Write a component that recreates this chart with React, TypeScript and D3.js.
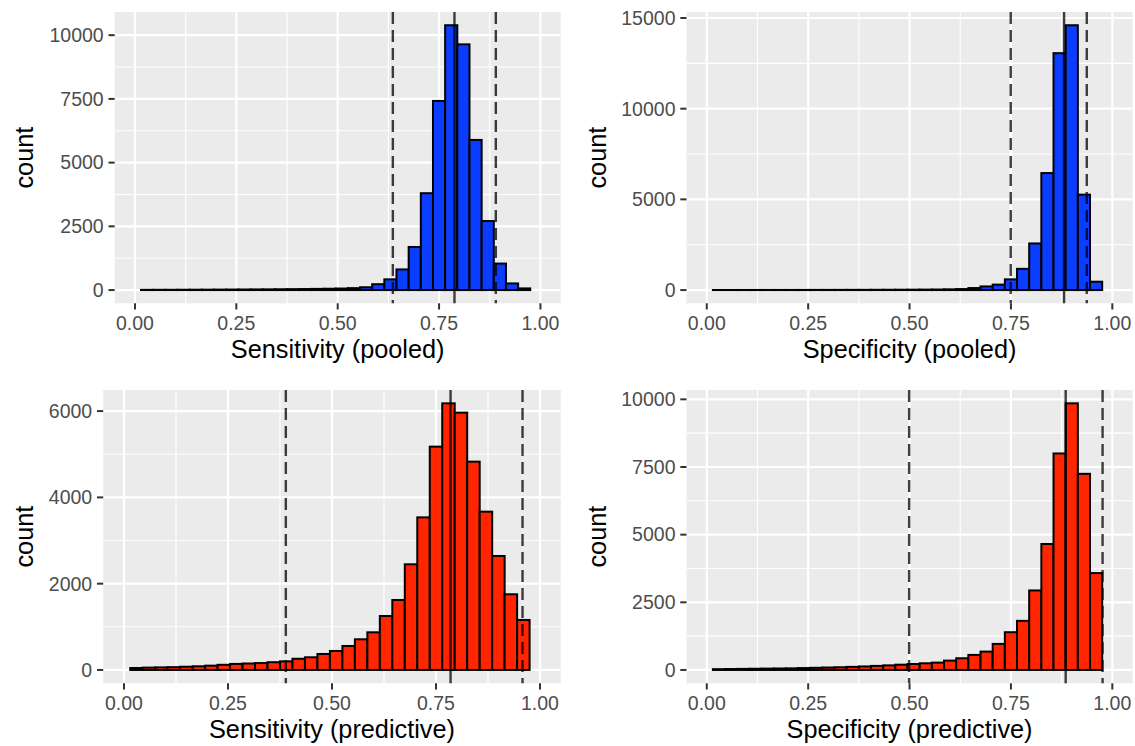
import { useRef, useEffect } from 'react';
import * as d3 from 'd3';

const WIDTH = 1135;
const HEIGHT = 746;
const FONT = '"Liberation Sans", Arial, Helvetica, sans-serif';
const PANEL_BG = '#EBEBEB';
const BLUE = '#0A3DFF';
const RED = '#FF2500';

// histogram bins (binwidth 0.03), given by their centres
const BIN_WIDTH = 0.03;
const BIN_CENTERS = [
  0.03, 0.06, 0.09, 0.12, 0.15, 0.18, 0.21, 0.24, 0.27, 0.3, 0.33, 0.36, 0.39, 0.42, 0.45, 0.48,
  0.51, 0.54, 0.57, 0.6, 0.63, 0.66, 0.69, 0.72, 0.75, 0.78, 0.81, 0.84, 0.87, 0.9, 0.93, 0.96,
];

const SENS_POOLED = [
  8, 10, 10, 12, 14, 15, 18, 20, 22, 25, 28, 32, 36, 40, 46, 52,
  60, 75, 110, 230, 420, 810, 1690, 3800, 7420, 10390, 9640, 5890, 2710, 1040, 260, 65,
];
const SPEC_POOLED = [
  3, 4, 4, 5, 5, 6, 6, 7, 8, 9, 10, 11, 12, 14, 16, 18,
  21, 25, 30, 40, 55, 110, 200, 300, 590, 1170, 2570, 6450, 13060, 14600, 5260, 460,
];
const SENS_PRED = [
  45, 55, 60, 65, 75, 85, 100, 120, 140, 150, 160, 180, 200, 260, 294, 371,
  440, 556, 711, 873, 1251, 1622, 2449, 3537, 5176, 6180, 5964, 4828, 3669, 2642, 1754, 1159,
];
const SPEC_PRED = [
  30, 35, 40, 45, 50, 55, 60, 70, 80, 90, 100, 115, 130, 150, 170, 195,
  220, 247, 272, 346, 432, 556, 679, 963, 1395, 1815, 2938, 4654, 8000, 9852, 7247, 3580,
];

// [lower, median, upper] reference lines
const SENS_POOLED_LINES = [0.636, 0.788, 0.89];
const SPEC_POOLED_LINES = [0.7495, 0.881, 0.937];
const SENS_PRED_LINES = [0.389, 0.785, 0.958];
const SPEC_PRED_LINES = [0.499, 0.885, 0.976];

const X_TICKS = [0, 0.25, 0.5, 0.75, 1];
const X_MINOR = [0.125, 0.375, 0.625, 0.875];
const Y_TICKS_SENS_POOLED = [0, 2500, 5000, 7500, 10000];
const Y_TICKS_SPEC_POOLED = [0, 5000, 10000, 15000];
const Y_TICKS_SENS_PRED = [0, 2000, 4000, 6000];
const Y_TICKS_SPEC_PRED = [0, 2500, 5000, 7500, 10000];

const Histogram = ({ counts, lines, fill, xTitle, yTicks, box, titleX }) => {
  const ref = useRef(null);

  useEffect(() => {
    const g = d3.select(ref.current);
    g.selectAll('*').remove();
    const { left, right, top, bottom } = box;

    const x = d3.scaleLinear().domain([-0.05, 1.05]).range([left, right]);
    const maxCount = d3.max(counts);
    const y = d3
      .scaleLinear()
      .domain([-0.05 * maxCount, 1.05 * maxCount])
      .range([bottom, top]);

    g.append('rect')
      .attr('x', left)
      .attr('y', top)
      .attr('width', right - left)
      .attr('height', bottom - top)
      .attr('fill', PANEL_BG);

    // grid
    const yMinor = d3.pairs(yTicks).map(([a, b]) => (a + b) / 2);
    g.selectAll('.ymin')
      .data(yMinor)
      .join('line')
      .attr('x1', left)
      .attr('x2', right)
      .attr('y1', (d) => y(d))
      .attr('y2', (d) => y(d))
      .attr('stroke', 'white')
      .attr('stroke-width', 1.1);
    g.selectAll('.xmin')
      .data(X_MINOR)
      .join('line')
      .attr('x1', (d) => x(d))
      .attr('x2', (d) => x(d))
      .attr('y1', top)
      .attr('y2', bottom)
      .attr('stroke', 'white')
      .attr('stroke-width', 1.1);
    g.selectAll('.ymaj')
      .data(yTicks)
      .join('line')
      .attr('x1', left)
      .attr('x2', right)
      .attr('y1', (d) => y(d))
      .attr('y2', (d) => y(d))
      .attr('stroke', 'white')
      .attr('stroke-width', 2.2);
    g.selectAll('.xmaj')
      .data(X_TICKS)
      .join('line')
      .attr('x1', (d) => x(d))
      .attr('x2', (d) => x(d))
      .attr('y1', top)
      .attr('y2', bottom)
      .attr('stroke', 'white')
      .attr('stroke-width', 2.2);

    // bars
    g.append('g')
      .selectAll('rect')
      .data(counts)
      .join('rect')
      .attr('x', (d, i) => x(BIN_CENTERS[i] - BIN_WIDTH / 2))
      .attr('width', (d, i) => x(BIN_CENTERS[i] + BIN_WIDTH / 2) - x(BIN_CENTERS[i] - BIN_WIDTH / 2))
      .attr('y', (d) => y(d))
      .attr('height', (d) => y(0) - y(d))
      .attr('fill', fill)
      .attr('stroke', 'black')
      .attr('stroke-width', 2);

    // interval lines
    g.selectAll('.vline')
      .data(lines)
      .join('line')
      .attr('x1', (d) => x(d))
      .attr('x2', (d) => x(d))
      .attr('y1', top)
      .attr('y2', bottom)
      .attr('stroke', 'black')
      .attr('stroke-opacity', 0.75)
      .attr('stroke-width', 2.4)
      .attr('stroke-dasharray', (d, i) => (i === 1 ? null : '12,6'));

    // axes
    g.selectAll('.ytick')
      .data(yTicks)
      .join('line')
      .attr('x1', left - 6.2)
      .attr('x2', left)
      .attr('y1', (d) => y(d))
      .attr('y2', (d) => y(d))
      .attr('stroke', '#333333')
      .attr('stroke-width', 2);
    g.selectAll('.ylab')
      .data(yTicks)
      .join('text')
      .attr('x', left - 11)
      .attr('y', (d) => y(d))
      .attr('dy', '0.35em')
      .attr('text-anchor', 'end')
      .attr('fill', '#4D4D4D')
      .style('font-family', FONT)
      .style('font-size', '19.5px')
      .text((d) => d);

    g.selectAll('.xtick')
      .data(X_TICKS)
      .join('line')
      .attr('x1', (d) => x(d))
      .attr('x2', (d) => x(d))
      .attr('y1', bottom)
      .attr('y2', bottom + 6.2)
      .attr('stroke', '#333333')
      .attr('stroke-width', 2);
    g.selectAll('.xlab')
      .data(X_TICKS)
      .join('text')
      .attr('x', (d) => x(d))
      .attr('y', bottom + 27)
      .attr('text-anchor', 'middle')
      .attr('fill', '#4D4D4D')
      .style('font-family', FONT)
      .style('font-size', '19.5px')
      .text((d) => d3.format('.2f')(d));

    g.append('text')
      .attr('x', (left + right) / 2)
      .attr('y', bottom + 55)
      .attr('text-anchor', 'middle')
      .attr('fill', 'black')
      .style('font-family', FONT)
      .style('font-size', '25.3px')
      .text(xTitle);

    g.append('text')
      .attr('transform', `translate(${titleX},${(top + bottom) / 2}) rotate(-90)`)
      .attr('text-anchor', 'middle')
      .attr('fill', 'black')
      .style('font-family', FONT)
      .style('font-size', '25.3px')
      .text('count');
  }, [counts, lines, fill, xTitle, yTicks, box, titleX]);

  return <g ref={ref} />;
};

const BOX_1 = { left: 114.7, right: 560.7, top: 12, bottom: 303.3 };
const BOX_2 = { left: 686.5, right: 1132.6, top: 12, bottom: 303.3 };
const BOX_3 = { left: 103.2, right: 560.8, top: 390, bottom: 683.3 };
const BOX_4 = { left: 686.5, right: 1132.6, top: 390, bottom: 683.3 };

export default function App() {
  return (
    <svg
      width={WIDTH}
      height={HEIGHT}
      style={{ position: 'absolute', left: 0, top: 0, background: 'white' }}
    >
      <Histogram
        counts={SENS_POOLED}
        lines={SENS_POOLED_LINES}
        fill={BLUE}
        xTitle="Sensitivity (pooled)"
        yTicks={Y_TICKS_SENS_POOLED}
        box={BOX_1}
        titleX={33}
      />
      <Histogram
        counts={SPEC_POOLED}
        lines={SPEC_POOLED_LINES}
        fill={BLUE}
        xTitle="Specificity (pooled)"
        yTicks={Y_TICKS_SPEC_POOLED}
        box={BOX_2}
        titleX={606}
      />
      <Histogram
        counts={SENS_PRED}
        lines={SENS_PRED_LINES}
        fill={RED}
        xTitle="Sensitivity (predictive)"
        yTicks={Y_TICKS_SENS_PRED}
        box={BOX_3}
        titleX={33}
      />
      <Histogram
        counts={SPEC_PRED}
        lines={SPEC_PRED_LINES}
        fill={RED}
        xTitle="Specificity (predictive)"
        yTicks={Y_TICKS_SPEC_PRED}
        box={BOX_4}
        titleX={606}
      />
    </svg>
  );
}
